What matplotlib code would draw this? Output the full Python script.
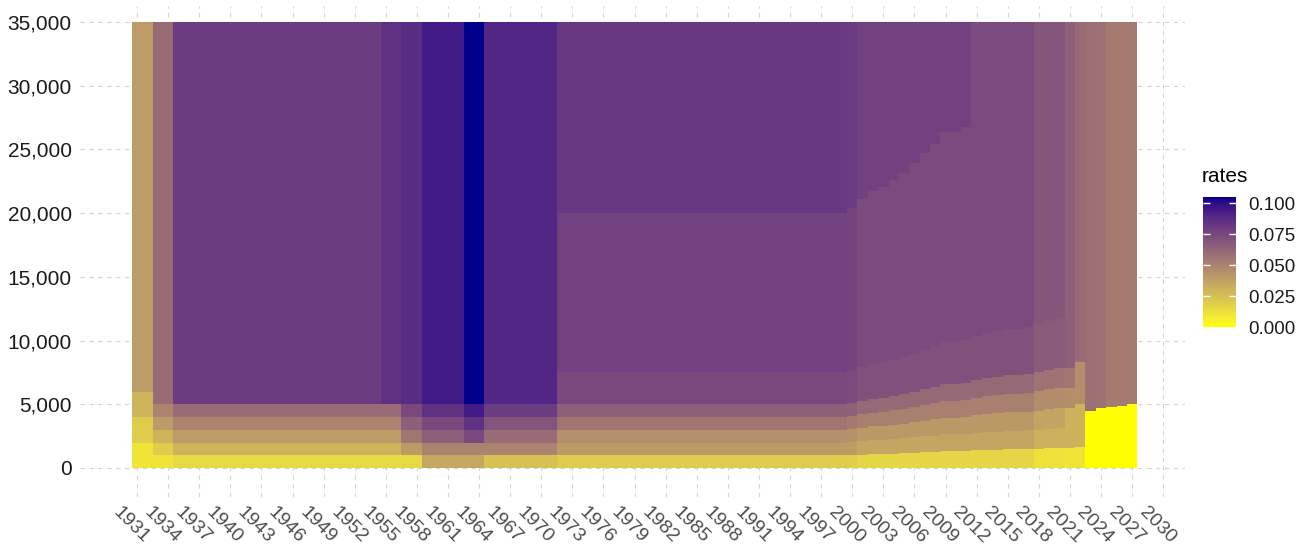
import numpy as np
import matplotlib
matplotlib.use('Agg')
from matplotlib import pyplot as plt
from matplotlib.colors import ListedColormap, Normalize
from matplotlib.cm import ScalarMappable
from matplotlib.ticker import FuncFormatter
import matplotlib.transforms as mtrans

plt.rcParams['font.family'] = ['Liberation Sans', 'DejaVu Sans']

top_income = 35000

# fixed bracket schedules 1931-1999
fix_first = [1931, 1933, 1935, 1955, 1957, 1959, 1963, 1965, 1972]
fix_last = [1932, 1934, 1954, 1956, 1958, 1962, 1964, 1971, 1999]
fix_cuts = [
    [2000, 4000, 6000],
    [1000, 2000, 3000, 4000, 5000],
    [1000, 2000, 3000, 4000, 5000],
    [1000, 2000, 3000, 4000, 5000],
    [1000, 2000, 3000, 4000, 5000],
    [1000, 2000, 3000, 4000, 5000],
    [1000, 2000, 3000, 4000, 5000],
    [1000, 2000, 3000, 4000, 5000],
    [1000, 2000, 3000, 4000, 5000, 7500, 20000],
]
fix_rates = [
    [0.01, 0.02, 0.03, 0.04],
    [0.01, 0.02, 0.03, 0.04, 0.05, 0.06],
    [0.015, 0.03, 0.04, 0.05, 0.06, 0.08],
    [0.015, 0.03, 0.04, 0.05, 0.06, 0.085],
    [0.015, 0.04, 0.055, 0.065, 0.075, 0.0875],
    [0.035, 0.05, 0.065, 0.075, 0.085, 0.095],
    [0.035, 0.05, 0.075, 0.085, 0.095, 0.105],
    [0.025, 0.05, 0.06, 0.07, 0.08, 0.09],
    [0.02, 0.04, 0.045, 0.055, 0.065, 0.075, 0.078, 0.082],
]

# indexed brackets 2000-2020
idx_years = list(range(2000, 2021))
cut1 = [1020, 1056, 1087, 1104, 1129, 1159, 1198, 1237, 1272, 1320, 1320,
        1338, 1380, 1409, 1429, 1452, 1454, 1472, 1504, 1541, 1568]
cut2 = [2040, 2112, 2174, 2208, 2258, 2318, 2396, 2474, 2544, 2640, 2640,
        2676, 2760, 2818, 2858, 2904, 2908, 2944, 3008, 3082, 3136]
cut3 = [3060, 3168, 3261, 3312, 3387, 3477, 3594, 3711, 3816, 3960, 3960,
        4014, 4140, 4227, 4287, 4356, 4362, 4416, 4511, 4623, 4704]
cut4 = [4080, 4224, 4348, 4416, 4516, 4636, 4792, 4948, 5088, 5280, 5280,
        5352, 5520, 5636, 5716, 5808, 5816, 5888, 6015, 6164, 6272]
cut5 = [5100, 5280, 5435, 5520, 5645, 5795, 5990, 6185, 6360, 6600, 6600,
        6690, 6900, 7045, 7145, 7260, 7270, 7360, 7519, 7705, 7840]
cut6 = [7650, 7920, 8153, 8280, 8468, 8693, 8985, 9278, 9540, 9900, 9900,
        10035, 10350, 10568, 10718, 10890, 10905, 11040, 11279, 11558, 11760]
cut7 = [20400, 21120, 21740, 22080, 22580, 23180, 23960, 24740, 25440, 26400,
        26400, 26760]  # 2000-2011 only
idx_first = [2000, 2001, 2012, 2018]
idx_last = [2000, 2011, 2017, 2020]
idx_rates = [
    [0.019, 0.039, 0.044, 0.054, 0.064, 0.074, 0.077, 0.081],
    [0.016, 0.036, 0.041, 0.051, 0.061, 0.071, 0.074, 0.078],
    [0.016, 0.036, 0.041, 0.051, 0.061, 0.071, 0.074],
    [0.01125, 0.03125, 0.03625, 0.04625, 0.05625, 0.06625, 0.06925],
]

# 2021 onwards
late_years = [2021, 2022, 2023, 2024, 2025, 2026, 2027]
late_cuts = [[1568, 3136, 4704, 6272, 7840], [1662, 4987, 8311],
             [4489], [4673], [4811], [4890], [4990]]
late_rates = [[0.01, 0.031, 0.031, 0.045, 0.055, 0.065], [0.01, 0.03, 0.045, 0.06],
              [0.0, 0.058], [0.0, 0.05695], [0.0, 0.053], [0.0, 0.053], [0.0, 0.053]]


def srgb_to_lab(rgb):
    c = np.asarray(rgb, dtype=float) / 255
    lin = np.where(c <= 0.04045, c / 12.92, ((c + 0.055) / 1.055) ** 2.4)
    M = np.array([[0.4124564, 0.3575761, 0.1804375],
                  [0.2126729, 0.7151522, 0.0721750],
                  [0.0193339, 0.1191920, 0.9503041]])
    xyz = M @ lin / np.array([0.95047, 1.0, 1.08883])
    f = np.where(xyz > 0.008856, np.cbrt(xyz), 7.787 * xyz + 16 / 116)
    return np.array([116 * f[1] - 16, 500 * (f[0] - f[1]), 200 * (f[1] - f[2])])


def lab_to_srgb(lab):
    L, a, b = lab
    fy = (L + 16) / 116
    fx = fy + a / 500
    fz = fy - b / 200
    f = np.array([fx, fy, fz])
    xyz = np.where(f ** 3 > 0.008856, f ** 3, (f - 16 / 116) / 7.787)
    xyz = xyz * np.array([0.95047, 1.0, 1.08883])
    Minv = np.array([[3.2404542, -1.5371385, -0.4985314],
                     [-0.9692660, 1.8760108, 0.0415560],
                     [0.0556434, -0.2040259, 1.0572252]])
    lin = np.clip(Minv @ xyz, 0, 1)
    c = np.where(lin <= 0.0031308, 12.92 * lin, 1.055 * lin ** (1 / 2.4) - 0.055)
    return np.clip(c, 0, 1)


# yellow -> darkblue gradient interpolated in Lab
lab_lo = srgb_to_lab([255, 255, 0])
lab_hi = srgb_to_lab([0, 0, 139])
cmap = ListedColormap([lab_to_srgb(lab_lo + (lab_hi - lab_lo) * t)
                       for t in np.linspace(0, 1, 256)])
norm = Normalize(0, 0.105)

# collect tiles
xs, bottoms, heights, rates = [], [], [], []


def add_year(year, cuts, rr):
    edges = [0] + list(cuts) + [top_income]
    for i in range(len(rr)):
        xs.append(year)
        bottoms.append(edges[i])
        heights.append(edges[i + 1] - edges[i])
        rates.append(rr[i])


for f, l, c, r in zip(fix_first, fix_last, fix_cuts, fix_rates):
    for yr in range(f, l + 1):
        add_year(yr, c, r)

for k, yr in enumerate(idx_years):
    c = [cut1[k], cut2[k], cut3[k], cut4[k], cut5[k], cut6[k]]
    if k < len(cut7):
        c.append(cut7[k])
    for f, l, r in zip(idx_first, idx_last, idx_rates):
        if f <= yr <= l:
            add_year(yr, c, r)

for yr, c, r in zip(late_years, late_cuts, late_rates):
    add_year(yr, c, r)

colors = cmap(norm(np.array(rates)))

fig = plt.figure(figsize=(13.04, 5.5), dpi=100)
ax = fig.add_axes([80 / 1304, 1 - 497 / 550, 1105 / 1304, 491 / 550])
ax.bar(xs, heights, bottom=bottoms, width=1, color=colors, linewidth=0,
       antialiased=False, zorder=2)

ax.set_xlim(1925.5, 2032.1)
ax.set_ylim(-2276, 36256)
ax.set_xticks(range(1931, 2031, 3))
ax.set_yticks(range(0, 35001, 5000))
ax.yaxis.set_major_formatter(FuncFormatter(lambda v, p: f'{int(v):,}'))
ax.grid(True, color='#D4D4D4', linestyle=(0, (4, 4)), linewidth=0.8, zorder=0)
ax.set_axisbelow(True)
for s in ax.spines.values():
    s.set_visible(False)
ax.tick_params(axis='both', length=0)
ax.tick_params(axis='y', labelsize=15, labelcolor='#1A1A1A', pad=6)
ax.tick_params(axis='x', labelsize=14, labelcolor='#4D4D4D', pad=5)
shift = mtrans.ScaledTranslation(-6 / 100, 0, fig.dpi_scale_trans)
for lab in ax.get_xticklabels():
    lab.set_rotation(-45)
    lab.set_ha('center')
    lab.set_va('top')
    lab.set_transform(lab.get_transform() + shift)

# legend
cax = fig.add_axes([1203 / 1304, 1 - 327 / 550, 33 / 1304, 130 / 550])
ticks = [0, 0.025, 0.05, 0.075, 0.1]
cb = fig.colorbar(ScalarMappable(norm=norm, cmap=cmap), cax=cax, ticks=ticks)
cb.outline.set_visible(False)
cax.set_yticklabels(['0.000', '0.025', '0.050', '0.075', '0.100'])
cax.tick_params(length=0, labelsize=13.5, labelcolor='#1A1A1A', pad=9)
cax.hlines(ticks[1:], 0, 0.2, colors='white', linewidth=1)
cax.hlines(ticks[1:], 0.8, 1, colors='white', linewidth=1)
fig.text(1202 / 1304, 1 - 176 / 550, 'rates', fontsize=15, va='center', ha='left')

fig.savefig('out.png', dpi=100)
